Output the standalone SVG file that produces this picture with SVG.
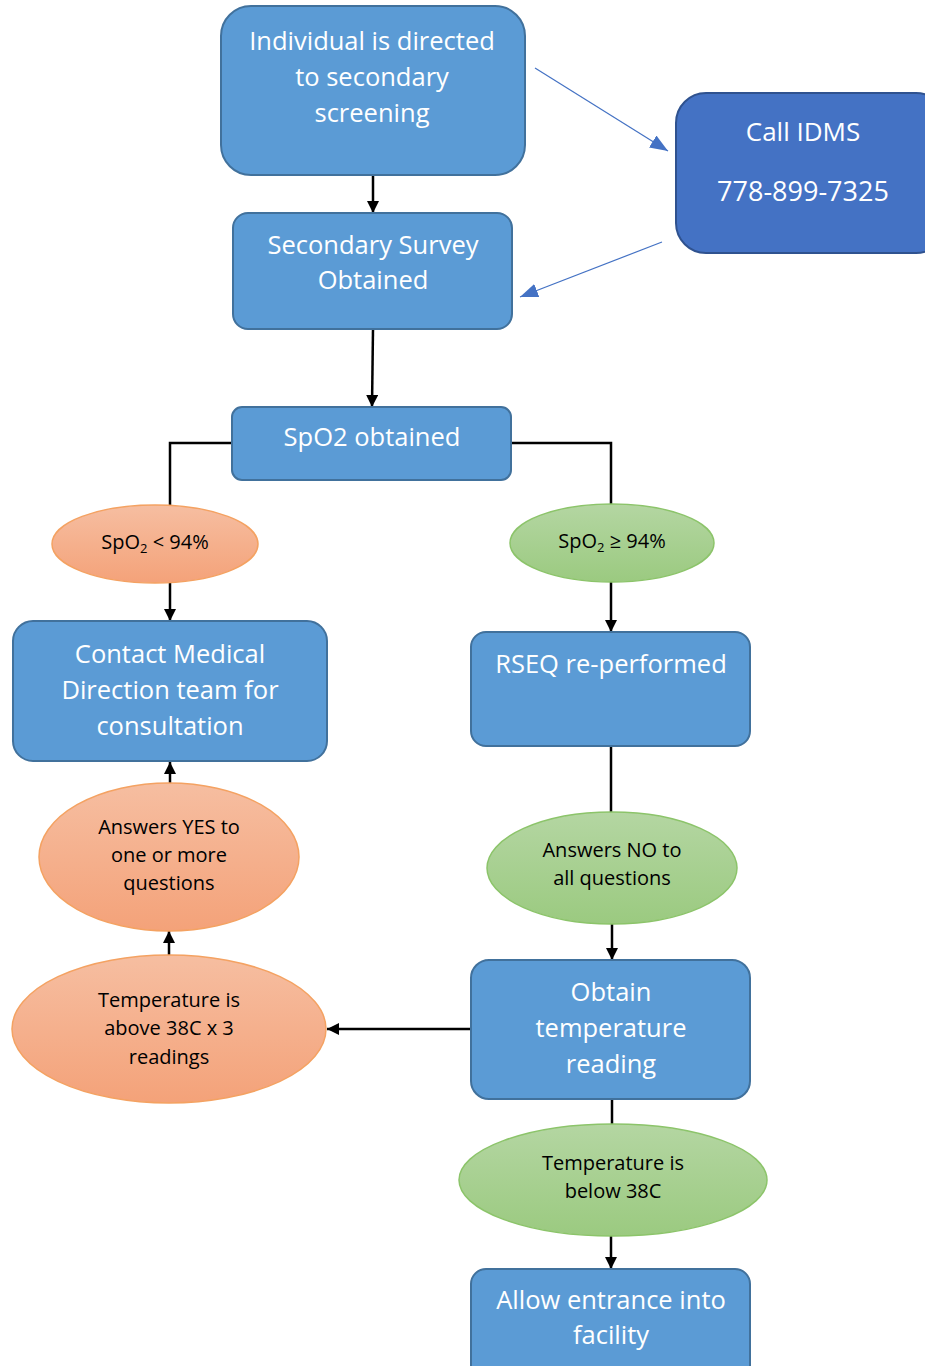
<svg xmlns="http://www.w3.org/2000/svg" width="925" height="1366" viewBox="0 0 925 1366">
<defs>
<linearGradient id="gOr" x1="0" y1="0" x2="0" y2="1"><stop offset="0" stop-color="#f6bea1"/><stop offset="1" stop-color="#f4a279"/></linearGradient>
<linearGradient id="gGr" x1="0" y1="0" x2="0" y2="1"><stop offset="0" stop-color="#b4d6a2"/><stop offset="1" stop-color="#9bca80"/></linearGradient>
<marker id="ah" markerUnits="userSpaceOnUse" markerWidth="12" markerHeight="12" viewBox="0 0 12 12" refX="12" refY="6" orient="auto"><path d="M0,0 L12,6 L0,12 Z" fill="#000"/></marker>
<marker id="ahb" markerUnits="userSpaceOnUse" markerWidth="18" markerHeight="14" viewBox="0 0 18 14" refX="18" refY="7" orient="auto"><path d="M0,0 L18,7 L0,14 Z" fill="#4472c4"/></marker>
</defs>
<style>
.box{fill:#5b9bd5;stroke:#41719c;stroke-width:2}
.idms{fill:#4472c4;stroke:#2f528f;stroke-width:2}
.eo{fill:url(#gOr);stroke:#f4a262;stroke-width:1.5}
.eg{fill:url(#gGr);stroke:#8cc46a;stroke-width:1.5}
.wt{font-family:"Open Sans","Liberation Sans",sans-serif;font-size:25.5px;fill:#fff;text-anchor:middle}
.bt{font-family:"Open Sans","Liberation Sans",sans-serif;font-size:20px;fill:#000;text-anchor:middle}
.ln{fill:none;stroke:#000;stroke-width:2.5}
.bl{fill:none;stroke:#4472c4;stroke-width:1.2}
</style>
<g id="connectors">
<line class="ln" x1="373" y1="175" x2="373" y2="213" marker-end="url(#ah)"/>
<line class="ln" x1="373" y1="329" x2="372" y2="407" marker-end="url(#ah)"/>
<polyline class="ln" points="232,443 170,443 170,506"/>
<polyline class="ln" points="511,443 611,443 611,505"/>
<line class="ln" x1="170" y1="583" x2="170" y2="621" marker-end="url(#ah)"/>
<line class="ln" x1="611" y1="582" x2="611" y2="632" marker-end="url(#ah)"/>
<line class="ln" x1="611" y1="746" x2="611" y2="813"/>
<line class="ln" x1="612" y1="924" x2="612" y2="960" marker-end="url(#ah)"/>
<line class="ln" x1="471" y1="1029" x2="327" y2="1029" marker-end="url(#ah)"/>
<line class="ln" x1="169" y1="955" x2="169" y2="931" marker-end="url(#ah)"/>
<line class="ln" x1="170" y1="783" x2="170" y2="762" marker-end="url(#ah)"/>
<line class="ln" x1="612" y1="1099" x2="612" y2="1124"/>
<line class="ln" x1="611" y1="1236" x2="611" y2="1269" marker-end="url(#ah)"/>
<line class="bl" x1="535" y1="68" x2="668" y2="151" marker-end="url(#ahb)"/>
<line class="bl" x1="662" y1="242" x2="520" y2="297" marker-end="url(#ahb)"/>
</g>
<g id="n-directed">
<rect class="box" x="221" y="6" width="304" height="169" rx="30"/>
<text class="wt" x="372" y="50">Individual is directed</text>
<text class="wt" x="372" y="86">to secondary</text>
<text class="wt" x="372" y="122">screening</text>
</g>
<g id="n-idms">
<rect class="idms" x="676" y="93" width="270" height="160" rx="30"/>
<text class="wt" x="803" y="141" style="font-size:26px">Call IDMS</text>
<text class="wt" x="803" y="201" style="font-size:27px">778-899-7325</text>
</g>
<g id="n-survey">
<rect class="box" x="233" y="213" width="279" height="116" rx="15"/>
<text class="wt" x="373" y="254">Secondary Survey</text>
<text class="wt" x="373" y="289">Obtained</text>
</g>
<g id="n-spo2">
<rect class="box" x="232" y="407" width="279" height="73" rx="10"/>
<text class="wt" x="372" y="446">SpO2 obtained</text>
</g>
<g id="n-low">
<ellipse class="eo" cx="155" cy="544" rx="103" ry="39"/>
<text class="bt" x="155" y="549">SpO<tspan font-size="13" dy="4">2</tspan><tspan dy="-4"> &lt; 94%</tspan></text>
</g>
<g id="n-high">
<ellipse class="eg" cx="612" cy="543" rx="102" ry="39"/>
<text class="bt" x="612" y="548">SpO<tspan font-size="13" dy="4">2</tspan><tspan dy="-4"> ≥ 94%</tspan></text>
</g>
<g id="n-contact">
<rect class="box" x="13" y="621" width="314" height="140" rx="20"/>
<text class="wt" x="170" y="663">Contact Medical</text>
<text class="wt" x="170" y="699">Direction team for</text>
<text class="wt" x="170" y="735">consultation</text>
</g>
<g id="n-rseq">
<rect class="box" x="471" y="632" width="279" height="114" rx="15"/>
<text class="wt" x="611" y="673">RSEQ re-performed</text>
</g>
<g id="n-yes">
<ellipse class="eo" cx="169" cy="857" rx="130" ry="74"/>
<text class="bt" x="169" y="834">Answers YES to</text>
<text class="bt" x="169" y="862">one or more</text>
<text class="bt" x="169" y="890">questions</text>
</g>
<g id="n-no">
<ellipse class="eg" cx="612" cy="868" rx="125" ry="56"/>
<text class="bt" x="612" y="857">Answers NO to</text>
<text class="bt" x="612" y="885">all questions</text>
</g>
<g id="n-above">
<ellipse class="eo" cx="169" cy="1029" rx="157" ry="74"/>
<text class="bt" x="169" y="1007">Temperature is</text>
<text class="bt" x="169" y="1035">above 38C x 3</text>
<text class="bt" x="169" y="1064">readings</text>
</g>
<g id="n-obtain">
<rect class="box" x="471" y="960" width="279" height="139" rx="18"/>
<text class="wt" x="611" y="1001">Obtain</text>
<text class="wt" x="611" y="1037">temperature</text>
<text class="wt" x="611" y="1073">reading</text>
</g>
<g id="n-below">
<ellipse class="eg" cx="613" cy="1180" rx="154" ry="56"/>
<text class="bt" x="613" y="1170">Temperature is</text>
<text class="bt" x="613" y="1198">below 38C</text>
</g>
<g id="n-allow">
<rect class="box" x="471" y="1269" width="279" height="120" rx="15"/>
<text class="wt" x="611" y="1309">Allow entrance into</text>
<text class="wt" x="611" y="1344">facility</text>
</g>
</svg>
